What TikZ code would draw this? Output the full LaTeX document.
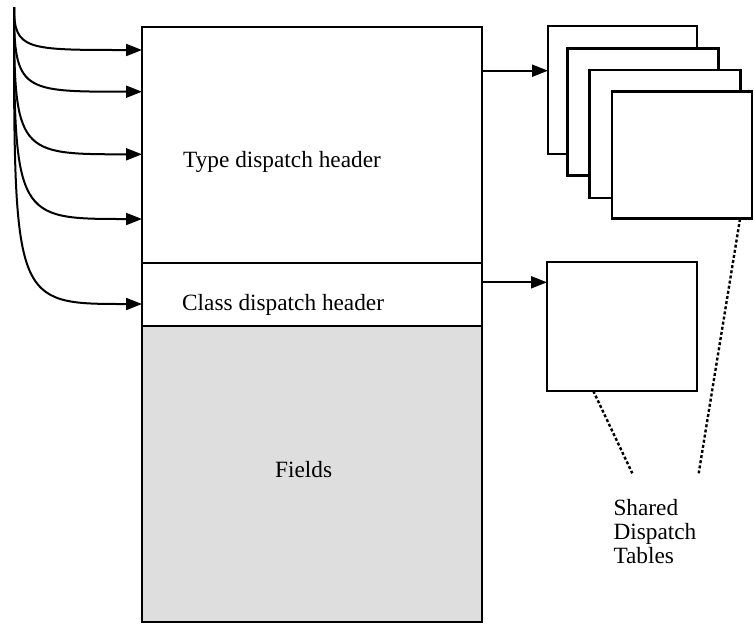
\documentclass[tikz,border=0pt]{standalone}
\usepackage{fontspec}
\setmainfont{Liberation Serif}
\usetikzlibrary{arrows.meta}
\begin{document}
\begin{tikzpicture}[x=1pt,y=-1pt,
  box/.style={draw=black,line width=2.1pt,fill=white,anchor=north west,inner sep=0pt,outer sep=0pt},
  arr/.style={line width=2pt,-{Triangle[length=16pt,width=12pt]}},
  dotl/.style={line width=2.4pt,dash pattern=on 3pt off 2.2pt},
  lbl/.style={font=\fontsize{23.3}{23.7}\selectfont,inner sep=0pt,anchor=base west}]
\useasboundingbox (0,0) rectangle (754,625);
% main object
\node[box,minimum width=340pt,minimum height=236pt] (typehdr) at (142,27) {};
\node[box,minimum width=340pt,minimum height=63pt] (classhdr) at (142,263) {};
\node[box,fill=black!13,minimum width=340pt,minimum height=296pt] (fields) at (142,326) {};
\node[lbl] (ttype) at (183,167) {Type dispatch header};
\node[lbl] (tclass) at (182,310) {Class dispatch header};
\node[lbl] (tfields) at (275,477) {Fields};
% stacked tables
\node[box,minimum width=149pt,minimum height=128pt] (tab1) at (548,26) {};
\node[box,minimum width=151pt,minimum height=127pt] (tab2) at (567.5,48.5) {};
\node[box,minimum width=151pt,minimum height=128pt] (tab3) at (589.5,70) {};
\node[box,minimum width=140pt,minimum height=127pt] (tab4) at (612,91.5) {};
% single table
\node[box,minimum width=150pt,minimum height=129pt] (tab5) at (547,262.3) {};
% incoming pointers
\coordinate (root) at (14,7);
\coordinate (p1) at (142,50);
\coordinate (p2) at (142,91.7);
\coordinate (p3) at (142,154.3);
\coordinate (p4) at (142,219);
\coordinate (p5) at (142,304);
\draw[line width=2pt] (root) -- (14,60);
\draw[arr] (root) .. controls (14,50) and (26,50) .. (p1);
\draw[arr] (root) .. controls (14,91.7) and (22,91.7) .. (p2);
\draw[arr] (root) .. controls (14,154.3) and (18,154.3) .. (p3);
\draw[arr] (root) .. controls (14,219) and (16,219) .. (p4);
\draw[arr] (root) .. controls (14,304) and (14,304) .. (p5);
% outgoing pointers
\coordinate (o1) at (482,70.7);
\coordinate (o2) at (482,282.3);
\draw[arr] (o1) -- (tab1.west |- o1);
\draw[arr] (o2) -- (tab5.west |- o2);
% dotted lines and label
\coordinate (d1) at (632.3,473.3);
\coordinate (d2) at (698.7,473.3);
\draw[dotl] (593.3,391) -- (d1);
\draw[dotl] (740,219) -- (d2);
\node[lbl,align=left] (tshared) at (613.3,563.3) {Shared\\Dispatch\\Tables};
\end{tikzpicture}
\end{document}
